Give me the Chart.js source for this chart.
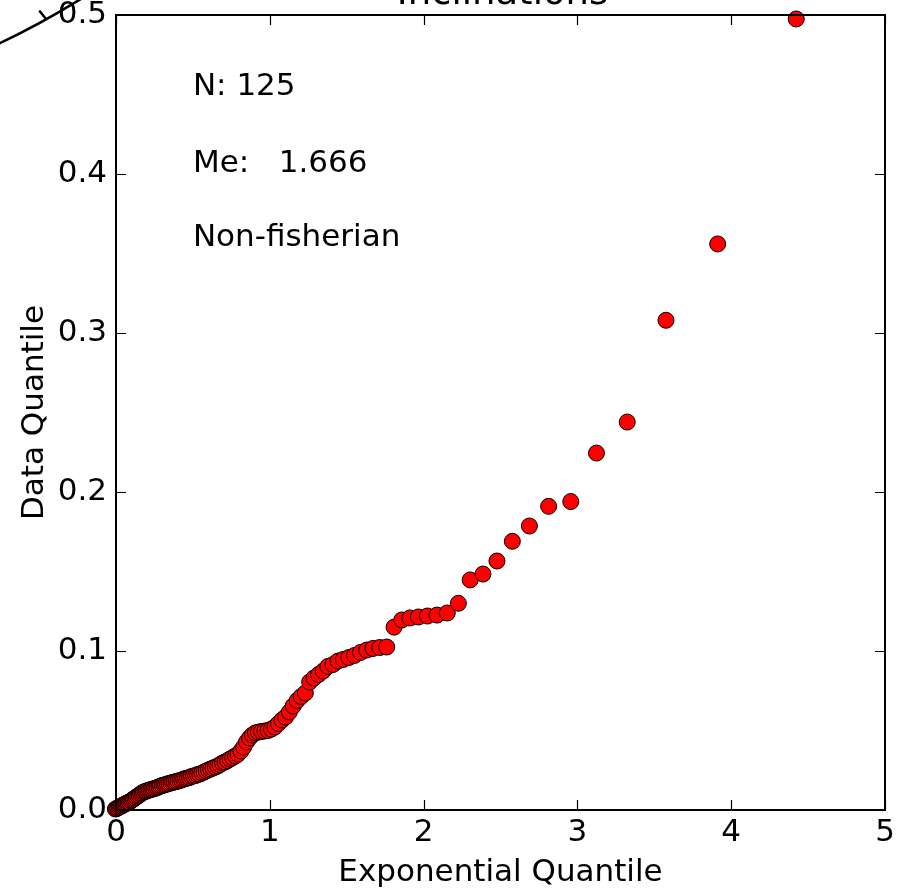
<!DOCTYPE html>
<html>
<head>
<meta charset="utf-8">
<script src="https://cdn.jsdelivr.net/npm/chart.js@4.4.1/dist/chart.umd.min.js"></script>
<style>
  html, body { margin: 0; padding: 0; background: #fff; }
  #qq { display: block; }
</style>
</head>
<body>
<canvas id="qq" width="901" height="892"></canvas>
<script>
(() => {
  "use strict";

  // ====== Data ======
  const TITLE = "Inclinations";
  const X_LABEL = "Exponential Quantile";
  const Y_LABEL = "Data Quantile";

  const xTicks = [0, 1, 2, 3, 4, 5];
  const yTicks = [0.0, 0.1, 0.2, 0.3, 0.4, 0.5];

  // exponential quantiles (x) for the 125 sorted points
  const expQuantile = [
    -0.004, 0.004, 0.012, 0.020, 0.028, 0.037, 0.045, 0.053, 0.062, 0.070,
    0.079, 0.088, 0.097, 0.105, 0.114, 0.123, 0.132, 0.142, 0.151, 0.160,
    0.170, 0.179, 0.189, 0.198, 0.208, 0.218, 0.228, 0.238, 0.248, 0.259,
    0.269, 0.280, 0.290, 0.301, 0.312, 0.323, 0.334, 0.345, 0.357, 0.368,
    0.380, 0.392, 0.403, 0.416, 0.428, 0.440, 0.453, 0.465, 0.478, 0.491,
    0.504, 0.518, 0.531, 0.545, 0.559, 0.573, 0.587, 0.601, 0.616, 0.631,
    0.646, 0.662, 0.677, 0.693, 0.709, 0.726, 0.742, 0.759, 0.777, 0.794,
    0.812, 0.830, 0.849, 0.868, 0.887, 0.906, 0.926, 0.947, 0.968, 0.989,
    1.011, 1.033, 1.056, 1.079, 1.103, 1.127, 1.152, 1.178, 1.204, 1.231,
    1.259, 1.287, 1.317, 1.347, 1.378, 1.411, 1.444, 1.478, 1.514, 1.551,
    1.590, 1.630, 1.671, 1.715, 1.760, 1.808, 1.858, 1.911, 1.966, 2.025,
    2.087, 2.154, 2.226, 2.303, 2.386, 2.477, 2.577, 2.688, 2.813, 2.957,
    3.124, 3.324, 3.576, 3.912, 4.423
  ];

  // data quantiles (y), same order
  const dataQuantile = [
    0.0006, 0.0009, 0.0013, 0.0019, 0.0022, 0.0025, 0.0031, 0.0035, 0.0038, 0.0044,
    0.0047, 0.0050, 0.0057, 0.0063, 0.0069, 0.0075, 0.0082, 0.0088, 0.0094, 0.0101,
    0.0107, 0.0113, 0.0116, 0.0119, 0.0123, 0.0126, 0.0129, 0.0132, 0.0134, 0.0138,
    0.0142, 0.0145, 0.0151, 0.0154, 0.0157, 0.0160, 0.0164, 0.0167, 0.0170, 0.0173,
    0.0176, 0.0179, 0.0182, 0.0186, 0.0189, 0.0195, 0.0198, 0.0201, 0.0204, 0.0211,
    0.0214, 0.0217, 0.0223, 0.0226, 0.0233, 0.0239, 0.0245, 0.0252, 0.0258, 0.0264,
    0.0270, 0.0277, 0.0286, 0.0296, 0.0302, 0.0311, 0.0321, 0.0330, 0.0340, 0.0352,
    0.0371, 0.0396, 0.0428, 0.0453, 0.0472, 0.0485, 0.0490, 0.0494, 0.0497, 0.0500,
    0.0509, 0.0522, 0.0544, 0.0566, 0.0585, 0.0616, 0.0654, 0.0689, 0.0714, 0.0736,
    0.0805, 0.0830, 0.0852, 0.0874, 0.0903, 0.0915, 0.0937, 0.0947, 0.0959, 0.0972,
    0.0991, 0.1006, 0.1016, 0.1022, 0.1025, 0.1150, 0.1195, 0.1208, 0.1214, 0.1220,
    0.1226, 0.1239, 0.1300, 0.1447, 0.1484, 0.1566, 0.1690, 0.1786, 0.1910, 0.1940,
    0.2245, 0.2440, 0.3080, 0.3560, 0.4975
  ];

  // text notes inside the axes, anchored in data coordinates (left / baseline)
  const noteText = ["N: 125", "Me:   1.666", "Non-fisherian"];
  const noteX = [0.5, 0.5, 0.5];
  const noteY = [0.450, 0.401, 0.355];

  // ====== Style ======
  const FONT = "'DejaVu Sans', 'Liberation Sans', sans-serif";
  const FS = 31;

  const points = expQuantile.map((x, i) => ({ x, y: dataQuantile[i] }));

  // inward ticks on all four sides, frame box, notes
  const mplFrame = {
    id: "mplFrame",
    afterDatasetsDraw(chart) {
      const { ctx, chartArea: a, scales } = chart;
      const sx = scales.x, sy = scales.y;
      const len = 10;
      ctx.save();
      ctx.strokeStyle = "#000";
      ctx.lineWidth = 1.2;
      ctx.beginPath();
      for (const v of xTicks) {
        const px = Math.round(sx.getPixelForValue(v)) + 0.5;
        ctx.moveTo(px, a.bottom); ctx.lineTo(px, a.bottom - len);
        ctx.moveTo(px, a.top); ctx.lineTo(px, a.top + len);
      }
      for (const v of yTicks) {
        const py = Math.round(sy.getPixelForValue(v)) + 0.5;
        ctx.moveTo(a.left, py); ctx.lineTo(a.left + len, py);
        ctx.moveTo(a.right, py); ctx.lineTo(a.right - len, py);
      }
      ctx.stroke();
      ctx.lineWidth = 2;
      ctx.strokeRect(a.left, a.top, a.right - a.left, a.bottom - a.top);

      ctx.fillStyle = "#000";
      ctx.font = `${FS}px ${FONT}`;
      ctx.textAlign = "left";
      ctx.textBaseline = "alphabetic";
      noteText.forEach((t, i) => {
        ctx.fillText(t, sx.getPixelForValue(noteX[i]), sy.getPixelForValue(noteY[i]));
      });
      ctx.restore();
    },
    afterDraw(chart) {
      const { ctx, chartArea: a } = chart;
      ctx.save();
      // cut-off title above the axes
      ctx.fillStyle = "#000";
      ctx.font = `${Math.round(FS * 1.2)}px ${FONT}`;
      ctx.textAlign = "center";
      ctx.textBaseline = "alphabetic";
      ctx.fillText(TITLE, (a.left + a.right) / 2 + 2, 4);
      // stray arc from a neighbouring panel, top-left corner
      ctx.strokeStyle = "#000";
      ctx.lineWidth = 2.6;
      ctx.lineCap = "round";
      ctx.beginPath();
      ctx.moveTo(-4, 45);
      ctx.quadraticCurveTo(40, 24.5, 84, -3);
      ctx.moveTo(46, 19);
      ctx.lineTo(40, 11.5);
      ctx.stroke();
      ctx.restore();
    }
  };

  new Chart(document.getElementById("qq").getContext("2d"), {
    type: "scatter",
    data: {
      datasets: [{
        data: points,
        pointRadius: 8,
        pointHoverRadius: 8,
        pointBackgroundColor: "#ff0000",
        pointBorderColor: "#000",
        pointBorderWidth: 1,
        clip: false
      }]
    },
    options: {
      responsive: false,
      animation: false,
      devicePixelRatio: 1,
      layout: { padding: { left: 0, top: 15, right: 16, bottom: 0 } },
      plugins: {
        legend: { display: false },
        tooltip: { enabled: false },
        title: { display: false }
      },
      scales: {
        x: {
          type: "linear",
          min: 0, max: 5,
          afterFit: (s) => { s.height = 82; s.paddingLeft = 0; s.paddingRight = 0; },
          afterBuildTicks: (s) => { s.ticks = xTicks.map(v => ({ value: v })); },
          grid: { display: false, drawTicks: false },
          border: { display: false },
          ticks: {
            color: "#000",
            font: { family: FONT, size: FS },
            padding: 4,
            maxRotation: 0,
            callback: (v) => String(v)
          },
          title: {
            display: true,
            text: X_LABEL,
            color: "#000",
            font: { family: FONT, size: FS },
            padding: { top: 0, bottom: 0 }
          }
        },
        y: {
          type: "linear",
          min: 0, max: 0.5,
          afterFit: (s) => { s.width = 116; s.paddingTop = 0; s.paddingBottom = 0; },
          afterBuildTicks: (s) => { s.ticks = yTicks.map(v => ({ value: v })); },
          grid: { display: false, drawTicks: false },
          border: { display: false },
          ticks: {
            color: "#000",
            font: { family: FONT, size: FS },
            padding: 9,
            callback: (v) => Number(v).toFixed(1)
          },
          title: {
            display: true,
            text: Y_LABEL,
            color: "#000",
            font: { family: FONT, size: FS },
            padding: { top: 16, bottom: 0 }
          }
        }
      }
    },
    plugins: [mplFrame]
  });
})();
</script>
</body>
</html>
